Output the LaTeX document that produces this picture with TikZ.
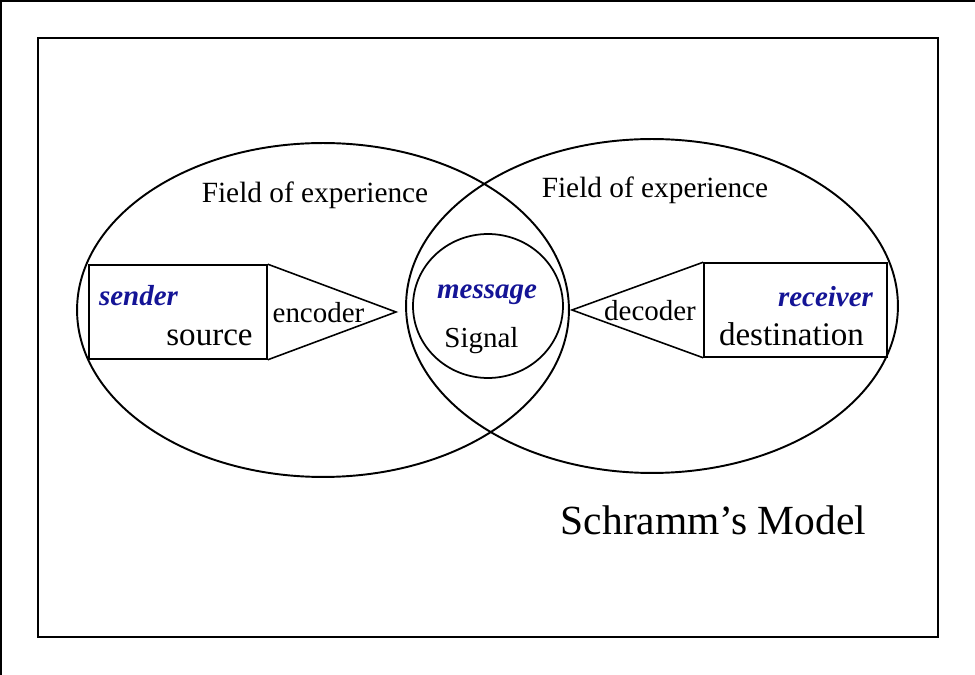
\documentclass[tikz,border=0pt]{standalone}
\usepackage{fontspec}
\setmainfont{Liberation Serif}
\usepackage{tikz}
\usetikzlibrary{shapes.geometric}
\definecolor{roleblue}{RGB}{20,20,150}

\tikzset{
  field/.style={draw, ellipse, line width=1.1pt, inner sep=0pt, minimum width=9.84cm, minimum height=6.68cm},
  signal/.style={draw, ellipse, line width=1pt, inner sep=0pt, minimum width=3cm, minimum height=2.88cm},
  party/.style={draw, rectangle, line width=0.9pt, inner sep=0pt, minimum height=1.88cm},
  word/.style={inner sep=0pt, anchor=base, font=\fontsize{16.5}{19}\selectfont},
  bigword/.style={word, font=\fontsize{18.8}{22}\selectfont},
  role/.style={word, text=roleblue, font=\fontsize{16.5}{20}\selectfont\bfseries\itshape}
}

\begin{document}
\begin{tikzpicture}[x=0.02cm, y=-0.02cm]
                \useasboundingbox (0,0) rectangle (975,675);
                \draw[line width=1.1pt] (1,675) -- (1,1) -- (975,1);
                \draw[line width=1.1pt] (38,38) rectangle (938,637);
                \node[field] (fsend) at (323,310) {};
                \node[field] (frecv) at (652,306) {};
                \node[signal] (sig) at (488,306) {};
                \node[party, minimum width=3.56cm] (src) at (178,312) {};
                \node[party, minimum width=3.66cm] (dst) at (795.5,310) {};
                \coordinate (enctip) at (396,312);
                \coordinate (dectip) at (572,310);
                \draw[line width=0.9pt] (src.north east) -- (enctip) -- (src.south east);
                \draw[line width=0.9pt] (dst.north west) -- (dectip) -- (dst.south west);
                \node[word, font=\fontsize{16.7}{20}\selectfont] (fexpl) at (315,203) {Field of experience};
                \node[word, font=\fontsize{16.7}{20}\selectfont] (fexpr) at (655,198) {Field of experience};
                \node[role] (sender) at (138.5,306) {sender};
                \node[bigword] (source) at (209.5,346) {source};
                \node[word] (encoder) at (318.5,323) {encoder};
                \node[role] (message) at (487,299) {message};
                \node[word] (signal) at (481.5,348) {Signal};
                \node[word] (decoder) at (650,321) {decoder};
                \node[role] (receiver) at (825.5,307) {receiver};
                \node[bigword] (destination) at (791.5,346) {destination};
                \node[word, font=\fontsize{23.6}{28}\selectfont] (title) at (713.5,535) {Schramm’s Model};
            \end{tikzpicture}
\end{document}
